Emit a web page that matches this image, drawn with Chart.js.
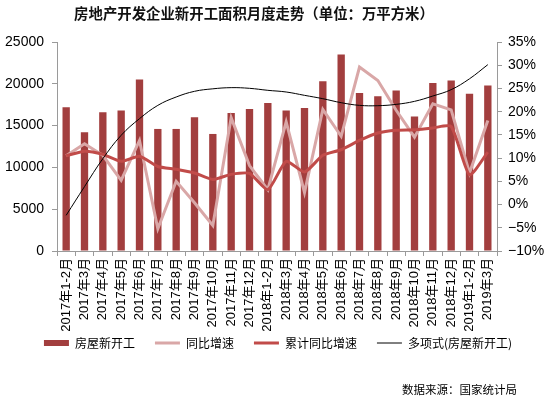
<!DOCTYPE html>
<html>
<head>
<meta charset="utf-8">
<title>房地产开发企业新开工面积月度走势</title>
<script src="https://cdn.jsdelivr.net/npm/chart.js"></script>
<style>
  body { margin: 0; background: #fff; }
  #wrap { position: relative; width: 556px; height: 399px; }
  #title { position: absolute; left: 0; top: 2px; width: 508px; text-align: center;
           font: bold 14.4px "Noto Sans CJK SC", sans-serif; color: #111; }
  #source { position: absolute; right: 39px; top: 381px;
            font: 11.5px "Noto Sans CJK SC", sans-serif; color: #000; }
</style>
</head>
<body>
<div id="wrap">
  <canvas id="chart" width="556" height="399"></canvas>
  <div id="title">房地产开发企业新开工面积月度走势（单位：万平方米）</div>
  <div id="source">数据来源：国家统计局</div>
</div>
<script>
const months = ['2017年1-2月', '2017年3月', '2017年4月', '2017年5月', '2017年6月', '2017年7月',
  '2017年8月', '2017年9月', '2017年10月', '2017年11月', '2017年12月', '2018年1-2月',
  '2018年3月', '2018年4月', '2018年5月', '2018年6月', '2018年7月', '2018年8月',
  '2018年9月', '2018年10月', '2018年11月', '2018年12月', '2019年1-2月', '2019年3月'];

// 房屋新开工 (万平方米)
const newStarts = [17200, 14200, 16600, 16800, 20500, 14600, 14600, 16000, 14000, 16500, 17000, 17700,
  16800, 17100, 20300, 23500, 18900, 18500, 19200, 16100, 20100, 20400, 18800, 19800];

// 同比增速 (%)
const yoyGrowth = [10.5, 13.1, 10.6, 5.2, 13.8, -5.2, 5.0, 0.4, -4.5, 18.7, 8.4, 3.2,
  17.8, 2.6, 20.5, 14.7, 29.6, 26.7, 20.3, 14.5, 21.7, 20.4, 6.8, 18.1];

// 累计同比增速 (%)
const cumGrowth = [10.5, 11.5, 10.8, 9.3, 10.4, 8.2, 7.6, 6.8, 5.4, 6.5, 6.7, 3.2,
  9.3, 7.0, 10.6, 11.8, 13.8, 15.4, 16.0, 16.1, 16.5, 16.8, 6.4, 11.3];

// 多项式(房屋新开工) trend line
const trendLine = [4270, 7700, 11040, 13840, 15830, 17420, 18420, 19100, 19400, 19540, 19460, 19220,
  19020, 18620, 18220, 17740, 17420, 17380, 17540, 17900, 18540, 19300, 20600, 22290];

const leftTicks = { min: 0, max: 25000, step: 5000 };
const rightTicks = { min: -10, max: 35, step: 5 };

Chart.defaults.font.family = '"Liberation Sans", "Noto Sans CJK SC", sans-serif';
Chart.defaults.color = '#000';

const axisGray = '#9a9a9a';

// month labels run down past the x-axis box into the legend, as in the original; don't clip them
const unclipLabels = {
  id: 'unclipLabels',
  afterLayout(chart) {
    chart.scales.x.bottom = chart.scales.x.top + 90;
  }
};

new Chart(document.getElementById('chart'), {
  data: {
    labels: months,
    datasets: [
      {
        type: 'bar', label: '房屋新开工', data: newStarts, yAxisID: 'y',
        backgroundColor: '#a23e3e', barPercentage: 0.4, categoryPercentage: 1,
        pointStyle: 'rect', order: 4
      },
      {
        type: 'line', label: '同比增速', data: yoyGrowth, yAxisID: 'y1',
        borderColor: '#d9a7a7', backgroundColor: '#d9a7a7', borderWidth: 3,
        pointRadius: 0, tension: 0, pointStyle: 'line', order: 3
      },
      {
        type: 'line', label: '累计同比增速', data: cumGrowth, yAxisID: 'y1',
        borderColor: '#c14b49', backgroundColor: '#c14b49', borderWidth: 3,
        pointRadius: 0, tension: 0.2, pointStyle: 'line', order: 2
      },
      {
        type: 'line', label: '多项式(房屋新开工)', data: trendLine, yAxisID: 'y',
        borderColor: '#000', backgroundColor: '#000', borderWidth: 1,
        pointRadius: 0, tension: 0.4, pointStyle: 'line', order: 1
      }
    ]
  },
  plugins: [unclipLabels],
  options: {
    responsive: false,
    animation: false,
    layout: { padding: { top: 42, bottom: 40, left: 0, right: 0 } },
    plugins: {
      legend: {
        position: 'bottom',
        labels: {
          usePointStyle: true, pointStyleWidth: 25, boxHeight: 6, padding: 20,
          font: { size: 12, family: '"Noto Sans CJK SC", sans-serif' }, color: '#000',
          sort: (a, b) => a.datasetIndex - b.datasetIndex
        }
      },
      tooltip: { enabled: false }
    },
    scales: {
      x: {
        offset: true,
        grid: { offset: true, drawOnChartArea: false, tickLength: 5, color: axisGray },
        border: { color: axisGray },
        ticks: { minRotation: 90, maxRotation: 90, autoSkip: false, padding: 2, font: { size: 13 } },
        afterFit: s => { s.height = 66; }
      },
      y: {
        position: 'left', min: leftTicks.min, max: leftTicks.max,
        grid: { drawOnChartArea: false, tickLength: 5, color: axisGray },
        border: { color: axisGray },
        ticks: { stepSize: leftTicks.step, padding: 8, font: { size: 14 }, callback: v => String(v) },
        afterFit: s => { s.width = 57; }
      },
      y1: {
        position: 'right', min: rightTicks.min, max: rightTicks.max,
        grid: { drawOnChartArea: false, tickLength: 5, color: axisGray },
        border: { color: axisGray },
        ticks: {
          stepSize: rightTicks.step, padding: 6, font: { size: 14 },
          callback: v => (v < 0 ? '−' + (-v) : v) + '%'
        },
        afterFit: s => { s.width = 59; }
      }
    }
  }
});
</script>
</body>
</html>
